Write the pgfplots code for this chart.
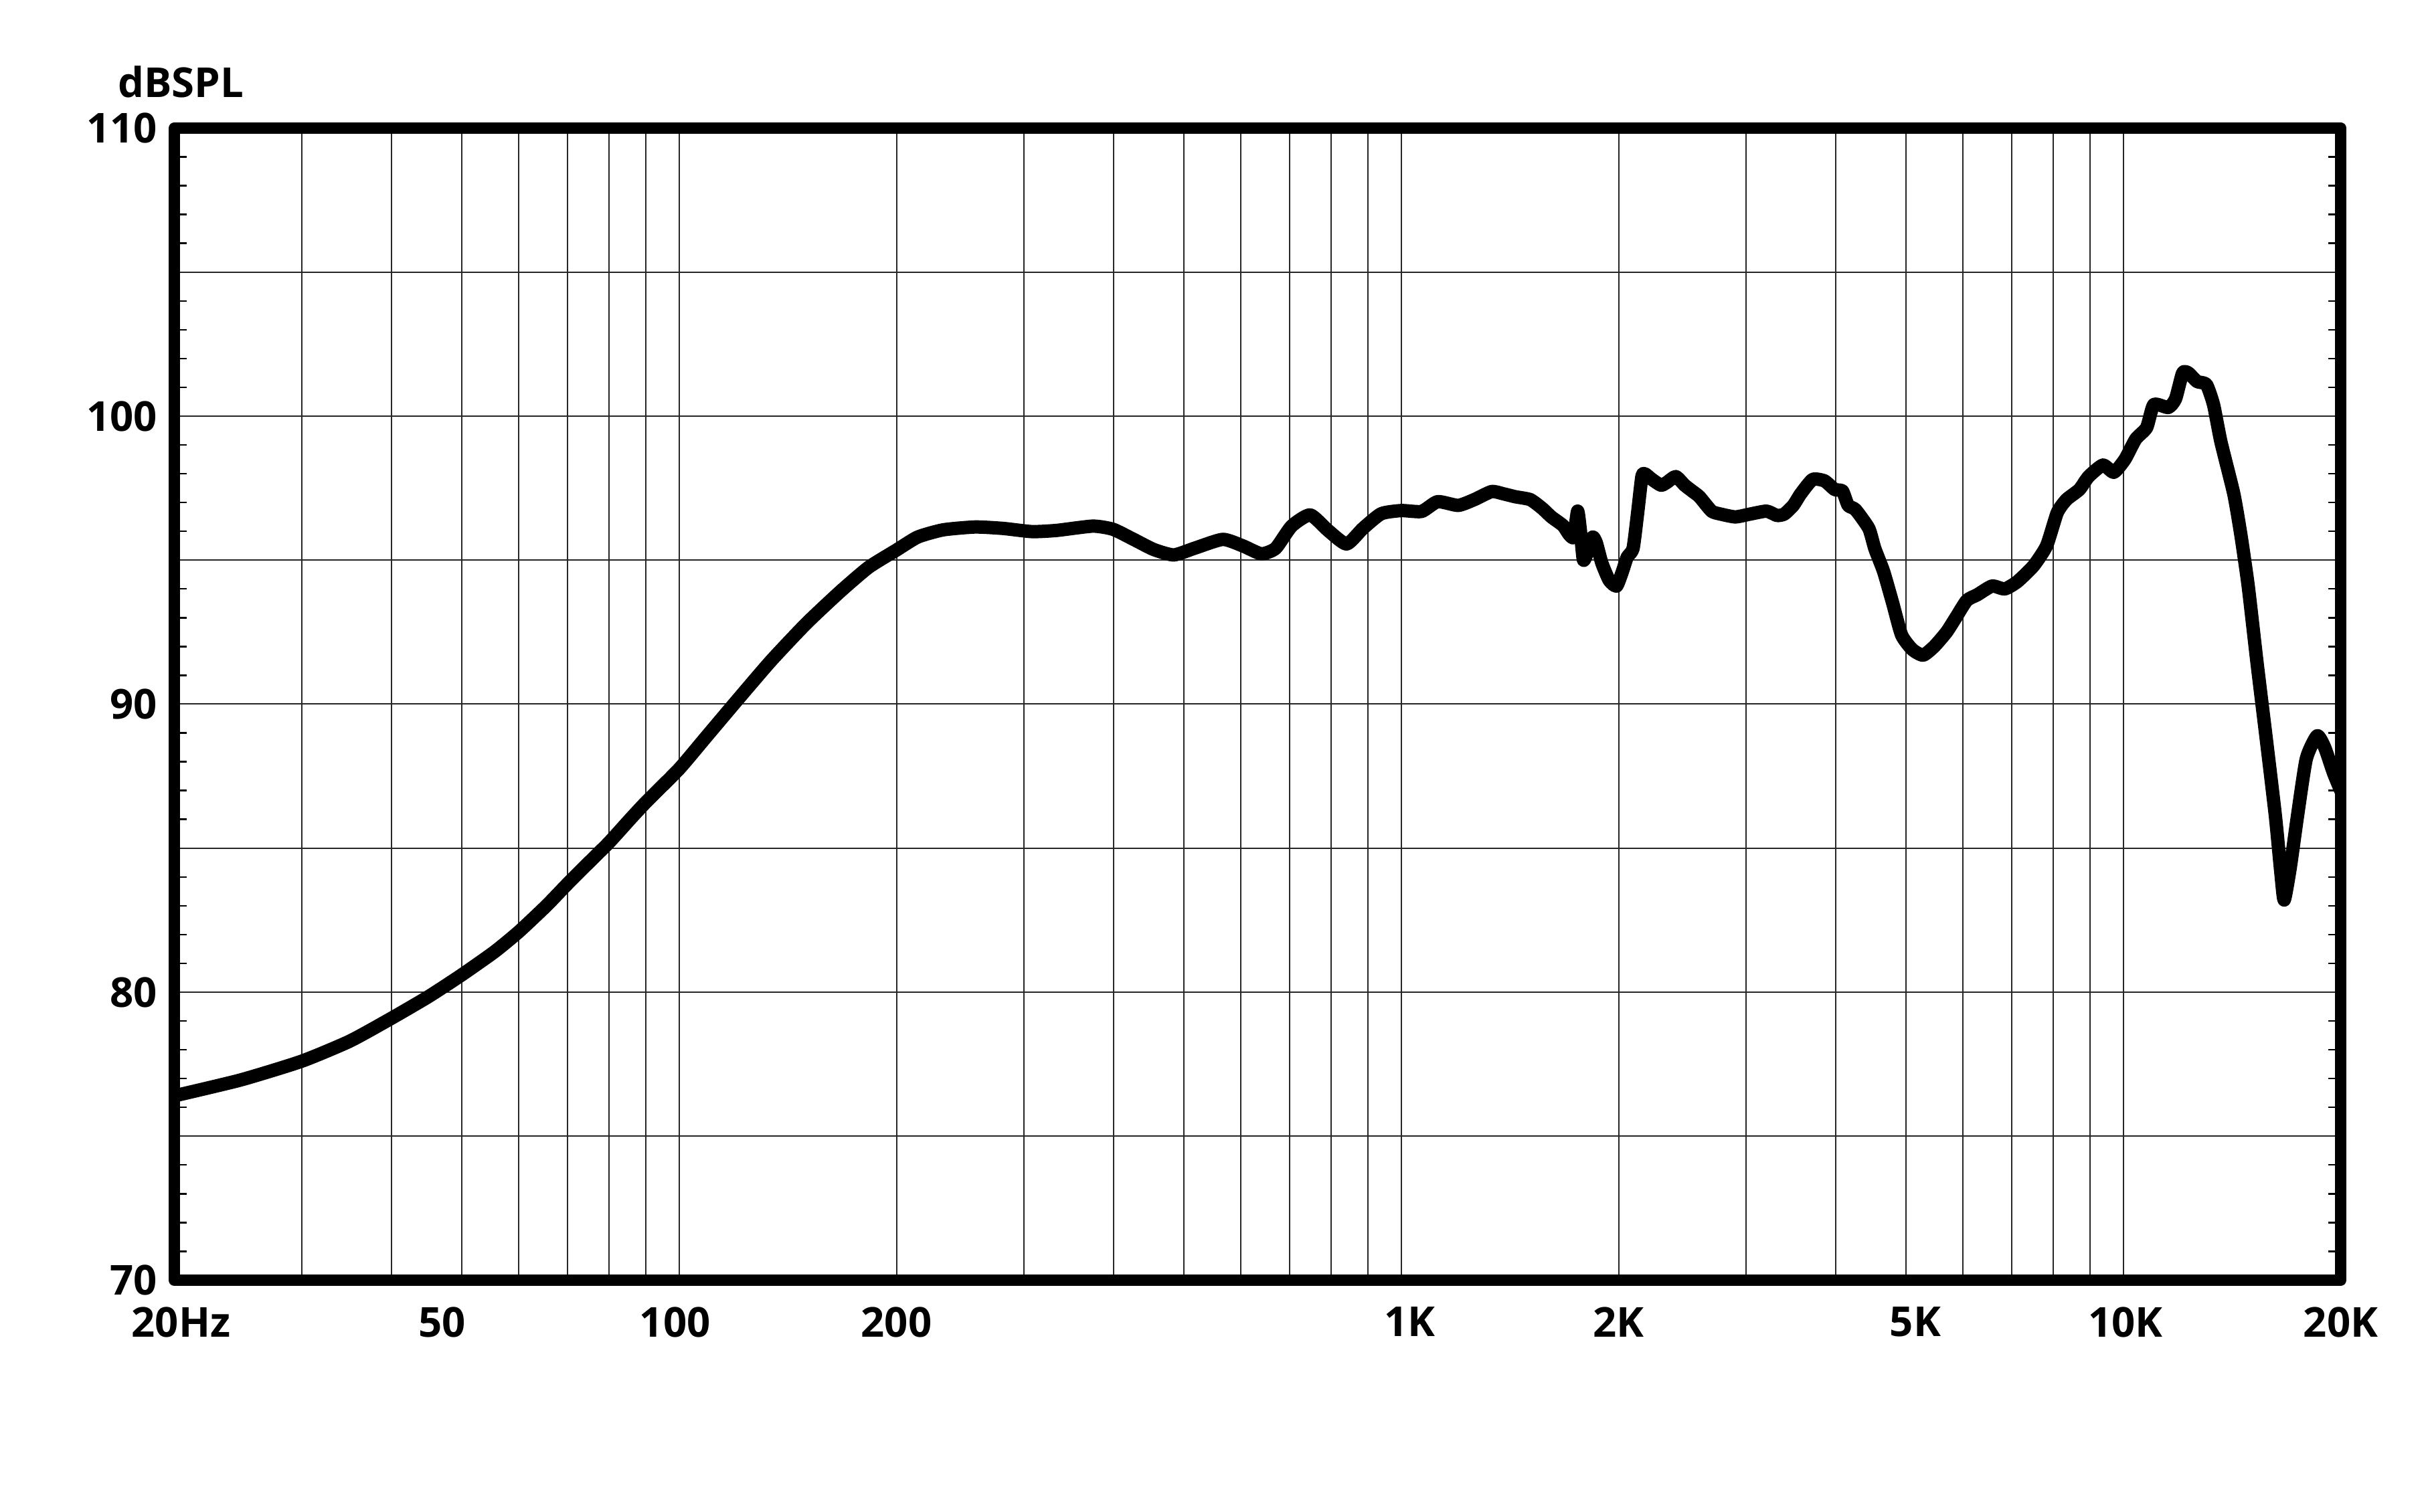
\documentclass[border=0pt]{standalone}
\usepackage{fontspec}
\setmainfont{Open Sans}
\usepackage{pgfplots}
\pgfplotsset{compat=1.18}

% 1 px of the reference = 0.05 mm
\pgfplotstableread{
f      spl
20     76.4
24.7   76.95
30     77.6
35     78.3
40     79.1
45     79.85
50     80.6
55.5   81.4
60     82.1
65.5   83.0
70     83.75
75     84.5
80     85.2
85.5   86.0
90     86.6
100    87.75
108.5  88.8
120    90.1
134    91.5
150    92.8
167    93.9
183    94.75
200    95.35
214    95.8
232    96.05
257    96.15
281    96.1
308    95.99
333    96.03
374    96.18
399    96.07
426    95.72
454    95.37
484    95.18
517    95.41
566    95.72
604    95.49
640    95.22
670    95.41
705    96.18
748    96.57
792    96.03
840    95.56
885    96.1
938    96.61
1000   96.72
1067   96.69
1123   97.03
1199   96.9
1262   97.1
1334   97.38
1386   97.3
1439   97.2
1509   97.1
1567   96.8
1614   96.5
1675   96.2
1707   95.9
1733   95.8
1755   96.7
1771   96.0
1788   95.0
1816   95.35
1842   95.8
1863   95.6
1896   94.9
1941   94.3
1987   94.1
2024   94.6
2055   95.1
2094   95.4
2124   96.6
2154   97.9
2174   98.0
2225   97.8
2290   97.6
2333   97.7
2400   97.9
2469   97.6
2528   97.4
2588   97.2
2690   96.7
2767   96.6
2902   96.5
3044   96.6
3206   96.7
3314   96.55
3392   96.6
3491   96.9
3574   97.3
3713   97.8
3857   97.75
3985   97.45
4083   97.4
4158   96.9
4257   96.75
4441   96.1
4527   95.4
4656   94.6
4793   93.5
4930   92.4
5100   91.9
5280   91.7
5470   92.0
5690   92.5
5860   93.0
6070   93.6
6280   93.8
6580   94.1
6850   94.0
7130   94.25
7510   94.8
7830   95.5
8100   96.65
8340   97.1
8690   97.45
8950   97.9
9370   98.3
9700   98.05
10050  98.5
10400  99.2
10770  99.6
11020  100.4
11540  100.3
11810  100.6
12080  101.5
12300  101.5
12650  101.2
13030  101.1
13330  100.4
13650  99.1
14220  97.3
14550  95.85
14890  94.1
15320  91.4
15780  88.75
16240  86.1
16530  84.1
16700  83.2
17020  84.3
17420  86.1
17920  88.1
18550  88.9
19000  88.5
19550  87.6
20000  87.0
}\response

\begin{document}
\begin{tikzpicture}
\fill[white] (0,0) rectangle (181.4mm,113mm);
\path[use as bounding box] (0,0) rectangle (181.4mm,113mm);
\begin{axis}[
    at={(13.025mm,17.325mm)}, anchor=south west,
    width=161.85mm, height=86.1mm, scale only axis,
    xmode=log, xmin=20, xmax=20000, ymin=70, ymax=110,
    axis line style={black, line width=0.85mm, line join=round},
    xtick={20,30,40,50,60,70,80,90,100,200,300,400,500,600,700,800,900,
           1000,2000,3000,4000,5000,6000,7000,8000,9000,10000,20000},
    xticklabels={\hspace*{1.0mm}20Hz,,,\hspace*{-2.9mm}50,,,,,\hspace*{-0.6mm}100,200,,,,,,,,
                 \hspace*{1.3mm}1K,2K,,,\hspace*{1.4mm}5K,,,,,\hspace*{0.3mm}10K,20K},
    xminorticks=false,
    ytick={70,75,...,110},
    yticklabels={70,,80,,90,,100,,110},
    minor y tick num=4,
    ytick pos=both,
    tick align=inside,
    major tick length=0pt,
    minor tick length=0.925mm,
    minor tick style={black, line width=0.12mm},
    xmajorgrids, ymajorgrids,
    major grid style={black!85, line width=0.1mm},
    ticklabel style={font=\bfseries\fontsize{8.77}{10}\selectfont, inner sep=0pt},
    xticklabel style={anchor=north, yshift=-1.925mm},
    yticklabel style={anchor=east, xshift=-1.225mm},
    clip mode=individual,
]
\addplot[black, line width=1.0mm, line join=round, line cap=round, mark=none,
         smooth, tension=0.35]
    table[x=f, y=spl] {\response};
\node[anchor=base, inner sep=0pt, font=\bfseries\fontsize{8.77}{10}\selectfont]
    at (axis description cs:0.003,1.0264) {dBSPL};
\end{axis}
\end{tikzpicture}
\end{document}
